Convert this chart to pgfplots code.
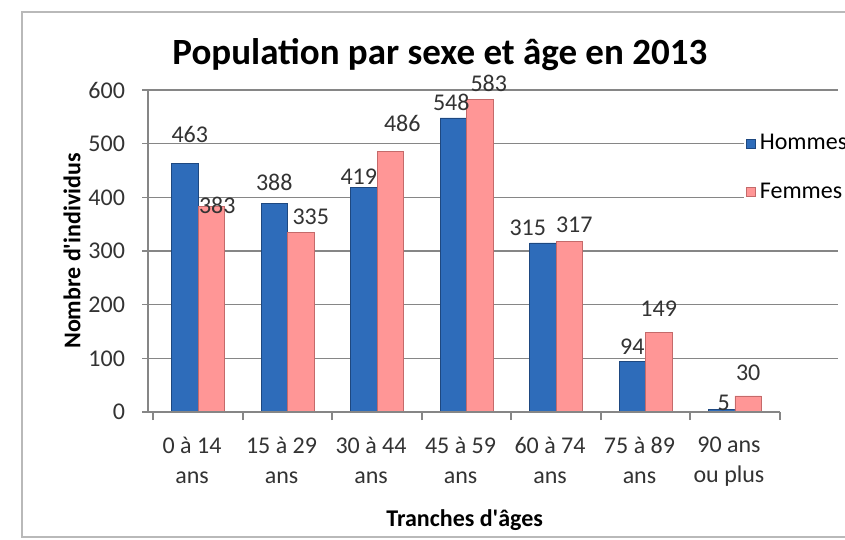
\documentclass[border=0pt]{standalone}
\usepackage{fontspec}
\setmainfont{Carlito}
\newfontfamily\plainfont{Carlito}
\usepackage{pgfplots}
\usepackage{pgfplotstable}
\pgfplotsset{compat=1.18}
\definecolor{hommes}{RGB}{46,108,186}
\definecolor{hommesedge}{RGB}{30,72,128}
\definecolor{femmes}{RGB}{255,150,150}
\definecolor{femmesedge}{RGB}{196,106,106}
\definecolor{gridgray}{RGB}{134,134,134}

% x = tranche, y = effectif, dx/dy = decalage de l'etiquette (pt)
\pgfplotstableread{
x y   dx   dy
0 463  2.5  7
1 388  0    3
2 419 -2.5 -2
3 548 -1    0
4 315 -7.5  0
5 94   0    0
6 5    1   -4
}\hommes
\pgfplotstableread{
x y   dx   dy
0 383  3   -7
1 335  5    0
2 486  6    6
3 583  4.5  0
4 317  2.5  1
5 149  0    4
6 30   0    4
}\femmes

\begin{document}
\begin{tikzpicture}
\useasboundingbox (0,0) rectangle (422.5pt,270pt);
\clip (0,0) rectangle (422.5pt,270pt);
\fill[white] (0,0) rectangle (422.5pt,270pt);
\draw[gray!55, line width=0.8pt] (11pt,1.5pt) rectangle (440pt,264pt);
\begin{axis}[
  at={(74pt,64pt)}, anchor=south west,
  scale only axis, width=345pt, height=161pt,
  xmin=-0.559, xmax=7.151, ymin=0, ymax=600,
  ybar=0pt, bar width=0.296,
  axis lines*=left,
  axis line style={-, draw=gridgray, line width=0.8pt},
  x axis line style={draw=none},
  xtick={0,...,6},
  xticklabels={{0 à 14\\ans},{15 à 29\\ans},{30 à 44\\ans},{45 à 59\\ans},{60 à 74\\ans},{75 à 89\\ans},{90 ans\\ou plus}},
  major x tick style={draw=none},
  minor xtick={-0.5,0.5,...,6.5},
  minor x tick style={gridgray, line width=0.8pt},
  tick align=outside,
  major tick length=3pt, minor tick length=4pt,
  ytick={0,100,...,600},
  y tick style={gridgray, line width=0.8pt},
  extra y ticks={100,200,...,600},
  extra y tick labels={},
  extra y tick style={grid=major, major grid style={gridgray, line width=0.7pt}},
  y tick label style={font=\fontsize{12}{14}\selectfont, text=black!80, xshift=-5pt},
  x tick label style={font=\fontsize{12}{15}\selectfont, text=black!80, align=center, yshift=-6pt, xshift=-3pt},
  /pgf/number format/assume math mode=true,
  nodes near coords,
  visualization depends on={\thisrow{dx} \as \labdx},
  visualization depends on={\thisrow{dy} \as \labdy},
  every node near coord/.append style={font=\fontsize{12}{14}\selectfont, text=black!80,
    xshift=\labdx pt, yshift=\labdy pt},
  title={Population par sexe et âge en 2013},
  every axis title/.style={at={(axis description cs:0.423,1.109)}, anchor=center, font=\fontsize{18.5}{22}\selectfont\bfseries},
  xlabel={\plainfont Tranches d'âges},
  every axis x label/.style={at={(axis description cs:0.459,-0.335)}, anchor=center, font=\fontsize{12}{14}\selectfont\bfseries},
  ylabel={\plainfont Nombre d'individus},
  every axis y label/.style={at={(axis description cs:-0.110,0.5)}, anchor=center, rotate=90, font=\fontsize{12}{14}\selectfont\bfseries},
  legend style={at={(axis description cs:0.863,0.882)}, anchor=north west, draw=none, fill=white,
    font=\fontsize{12}{14}\selectfont, row sep=11pt, inner sep=1pt},
  legend cell align=left,
  legend image code/.code={\fill[#1] (0pt,-2.3pt) rectangle (4.6pt,2.3pt);},
]
\addplot[fill=hommes, draw=hommesedge] table[x=x, y=y] {\hommes};
\addplot[fill=femmes, draw=femmesedge] table[x=x, y=y] {\femmes};
\legend{Hommes, Femmes}
\draw[gridgray, line width=0.8pt] (axis cs:-0.559,0) -- (axis cs:6.5,0);
\end{axis}
\end{tikzpicture}
\end{document}
